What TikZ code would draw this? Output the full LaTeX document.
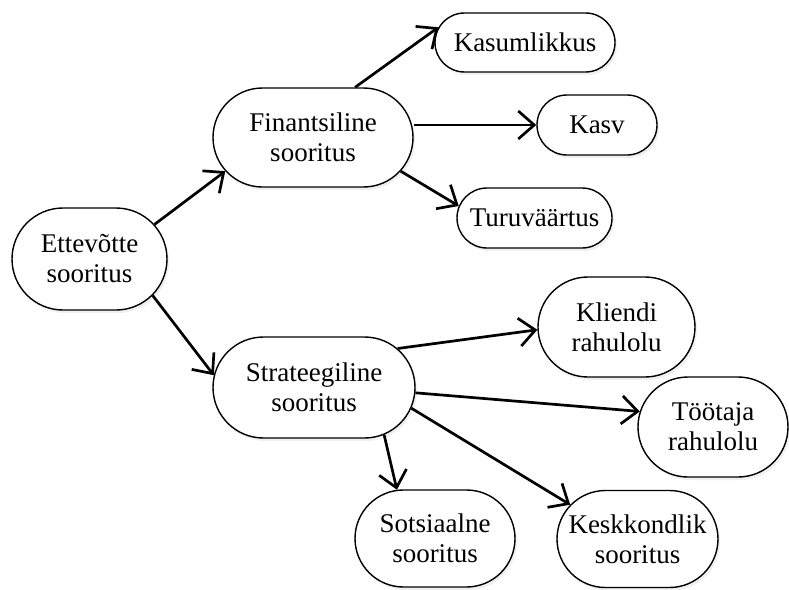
\documentclass[tikz,border=0pt]{standalone}
\usepackage{fontspec}
\setmainfont{Liberation Serif}
\usetikzlibrary{arrows.meta,shapes.misc,shadows}
\begin{document}
\begin{tikzpicture}[x=1pt,y=-1pt,
  box/.style={rounded rectangle, draw=black, line width=1.4pt, fill=white,
    align=center, inner sep=0pt, font=\fontsize{27}{30}\selectfont,
    drop shadow={opacity=0.12, shadow xshift=2pt, shadow yshift=-3pt}},
  arr/.style={line width=2.7pt,
    -{Straight Barb[length=16pt,width=28pt,line width=2.7pt]}}]
\useasboundingbox (0,0) rectangle (789,589);

% root
\node[box, minimum width=155pt, minimum height=102pt] (ett) at (89.5,259) {Ettevõtte\\sooritus};

% first level
\node[box, minimum width=200pt, minimum height=99pt]  (fin) at (313,137.5) {Finantsiline\\sooritus};
\node[box, minimum width=202pt, minimum height=101pt] (str) at (314,387.5) {Strateegiline\\sooritus};

% financial measures
\node[box, minimum width=180pt, minimum height=59pt] (kas)  at (525,42.5) {Kasumlikkus};
\node[box, minimum width=120pt, minimum height=60pt] (kasv) at (597,125)  {Kasv};
\node[box, minimum width=155pt, minimum height=60pt] (turu) at (534.5,218) {Turuväärtus};

% strategic measures
\node[box, minimum width=157pt, minimum height=100pt] (kli)  at (616.5,327) {Kliendi\\rahulolu};
\node[box, minimum width=150pt, minimum height=100pt] (too)  at (713,427)   {Töötaja\\rahulolu};
\node[box, minimum width=160pt, minimum height=97pt]  (sots) at (435,538.5) {Sotsiaalne\\sooritus};
\node[box, minimum width=161pt, minimum height=97pt]  (kesk) at (637.5,539) {Keskkondlik\\sooritus};

% connectors
\draw[arr] (ett.28.8) -- (fin.201.4);
\draw[arr] (ett.330)  -- (str.173.5);
\draw[arr] (fin.50.3) -- (kas.170.8);
\draw[arr] (fin.east |- kasv.west) -- (kasv.west);
\draw[arr] (fin.339.6) -- (turu.171.9);
\draw[arr] (str.25.4)  -- (kli.182.2);
\draw[arr] (str.357.4) -- (too.168.8);
\draw[arr] (str.348.7) -- (kesk.153.6);
\draw[arr] (str.326)   -- (sots.128.1);
\end{tikzpicture}
\end{document}
